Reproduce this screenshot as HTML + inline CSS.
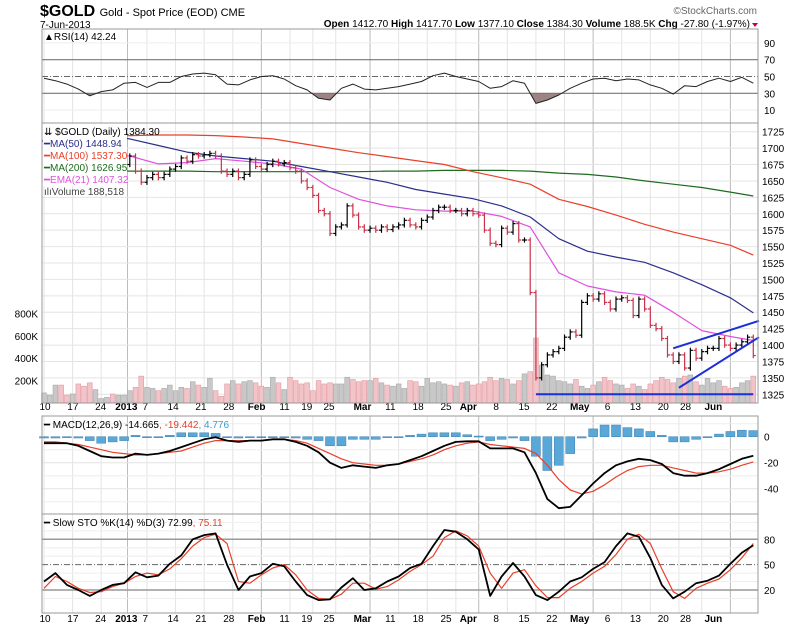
<!DOCTYPE html>
<html><head><meta charset="utf-8"><style>
html,body{margin:0;padding:0;background:#fff;}
svg{display:block;font-family:"Liberation Sans",sans-serif;}
</style></head><body>
<svg id="chart" width="800" height="628" viewBox="0 0 800 628" xmlns="http://www.w3.org/2000/svg">
<g>
<text x="40" y="16" font-size="16" font-weight="bold">$GOLD <tspan font-size="11" font-weight="normal">Gold - Spot Price (EOD) CME</tspan></text>
<text x="40" y="28" font-size="10">7-Jun-2013</text>
<text x="757" y="14" font-size="10" fill="#666" text-anchor="end">©StockCharts.com</text>
<text x="750" y="27" font-size="10" text-anchor="end"><tspan font-weight="bold">Open</tspan> 1412.70 <tspan font-weight="bold">High</tspan> 1417.70 <tspan font-weight="bold">Low</tspan> 1377.10 <tspan font-weight="bold">Close</tspan> 1384.30 <tspan font-weight="bold">Volume</tspan> 188.5K <tspan font-weight="bold">Chg</tspan> -27.80 (-1.97%)</text>
<path d="M752,23 L758,23 L755,27 Z" fill="#c03"/>
</g>
<g id="layer"></g>
</svg>
<script>
// ---- data ----
const closes=[1711,1712,1715,1697,1695,1695,1670,1667,1650,1657,1658,1660,1656,1657,1675,
1688,1665,1648,1655,1660,1655,1660,1668,1672,1685,1680,1690,1688,1690,1692,1688,1665,1660,1665,1655,1660,1682,1672,1668,1675,
1680,1676,1678,1670,1665,1650,1640,1628,1605,1600,1570,1580,1583,1612,1598,1580,1575,1578,1575,1580,
1576,1580,1583,1590,1583,1580,1590,1595,1605,1610,1610,1605,1605,1600,1605,1600,1598,1575,1555,1553,
1578,1572,1585,1560,1560,1480,1350,1370,1385,1390,1395,1412,1420,1415,1465,1475,1470,1478,1465,1455,
1470,1472,1468,1445,1470,1455,1430,1425,1410,1385,1375,1385,1365,1392,1380,1390,1395,1395,1410,1400,
1395,1400,1405,1412,1384];
const volumes=[90,70,160,160,70,80,170,150,180,120,40,50,80,70,70,
110,140,240,140,130,110,130,160,110,140,130,190,160,140,220,110,60,170,200,170,190,200,180,150,140,
230,180,120,230,200,170,180,110,200,170,180,170,170,230,210,190,200,200,220,180,
160,150,170,130,200,190,150,220,180,190,170,160,150,180,190,160,170,190,230,200,
220,210,170,200,260,280,580,340,250,240,200,190,170,210,150,130,160,190,230,200,
170,160,130,170,150,120,170,200,230,210,180,220,240,250,190,160,220,180,200,150,
130,140,180,200,240];
const maDays=[0,5,10,15,20,25,30,35,40,45,50,55,60,65,70,75,80,85,90,95,100,105,110,115,120,124];
const ma50=[1728,1724,1719,1714,1704,1694,1688,1684,1680,1672,1664,1656,1648,1637,1630,1623,1612,1595,1562,1543,1534,1526,1510,1492,1472,1449];
const ma100=[1716,1717,1718,1719,1720,1720,1719,1717,1714,1707,1700,1693,1687,1681,1675,1664,1655,1645,1622,1611,1598,1584,1572,1562,1552,1537];
const ma200=[1666,1666,1666,1665,1665,1665,1664,1664,1664,1664,1664,1664,1665,1665,1666,1666,1666,1665,1662,1660,1656,1650,1645,1640,1633,1627];
const ema21=[1700,1695,1690,1688,1676,1678,1684,1680,1676,1668,1640,1622,1612,1606,1604,1604,1596,1580,1510,1490,1481,1476,1450,1422,1413,1407];
const osDays=[0,2,4,6,8,10,12,14,16,18,20,22,24,26,28,30,32,34,36,38,40,42,44,46,48,50,52,54,56,58,60,62,64,66,68,70,72,74,76,78,80,82,84,86,88,90,92,94,96,98,100,102,104,106,108,110,112,114,116,118,120,122,124];
const rsi=[48,45,41,35,27,32,34,42,43,37,43,43,50,53,54,52,41,40,46,50,51,47,39,34,24,22,36,41,35,34,36,38,41,44,51,54,50,47,44,36,38,45,42,18,22,28,36,42,47,48,45,47,46,40,36,29,39,38,44,48,44,49,42];
const macd=[-5,-5,-5,-7,-11,-15,-16,-16,-13,-14,-13,-11,-8,-5,-2,-0.5,-3,-4,-3,-3,-2,-2,-4,-7,-12,-20,-24,-22,-23,-24,-22,-21,-18,-15,-11,-7,-4,-3.5,-3.5,-9,-9,-9,-12,-28,-48,-55,-54,-45,-36,-28,-22,-19,-17,-18,-21,-28,-30,-30,-28,-25,-21,-17,-14.7];
const signal=[-4,-4,-5,-6,-8,-10,-12,-13,-14,-14,-13,-12,-11,-8,-5,-3,-3,-3,-3,-3,-2,-2,-3,-5,-9,-13,-17,-20,-21,-22,-22,-21,-19,-17,-14,-10,-7,-5,-4,-6,-7,-8,-9,-13,-22,-33,-41,-44,-42,-37,-31,-26,-23,-22,-22,-24,-26,-28,-28,-27,-25,-22,-19.4];
const stoK=[30,40,26,20,13,20,26,28,41,35,37,51,61,80,85,87,50,20,36,40,51,48,30,14,8,9,23,34,20,22,30,36,46,51,72,91,89,80,68,13,36,52,36,14,8,18,30,35,45,53,72,87,83,58,26,10,18,28,31,37,51,64,73];
const stoD=[22,36,30,22,17,18,24,28,36,40,38,45,57,72,82,86,75,30,28,38,46,50,38,20,10,9,15,28,28,21,24,32,42,50,60,82,90,84,72,40,22,40,44,25,11,11,22,30,40,48,62,80,86,75,45,18,10,22,28,33,44,58,75];
const trendDays=[[86,124],[110,125],[111,125]];
const trendVals=[[1325,1325],[1395,1437],[1335,1412]];
const priceTicks=[1725,1700,1675,1650,1625,1600,1575,1550,1525,1500,1475,1450,1425,1400,1375,1350,1325];
const volTicks=[200,400,600,800];
const volTickLabels=['200K','400K','600K','800K'];
const rsiTicks=[90,70,50,30,10];
const macdTicks=[0,-20,-40];
const stoTicks=[80,50,20];
const dateLabels=['10','17','24','2013','7','14','21','28','Feb','11','19','25','Mar','11','18','25','Apr','8','15','22','May','6','13','20','28','Jun'];
const dateIdx=[0,5,10,14.6,18,23,28,33,38,43,47,51,57,62,67,72,76,81,86,91,96,101,106,111,115,120];
const monthIdx=[14.6,38,57,76,96,120];
const weekIdx=[0,5,10,18,23,28,33,43,47,51,62,67,72,81,86,91,101,106,111,115];

// ---- scales ----
const L=42,R=758;
const X=i=>44+5.72*i;
const LX=i=>45+5.57*i;
const PY=v=>131.7+(1725-v)*0.6565;
const VY=v=>403-v*0.112;
const RY=v=>93.3-(v-30)*0.84;
const MY=v=>436.7-v*1.3;
const SY=v=>539.3-(v-80)*0.845;
const NS='http://www.w3.org/2000/svg';
const layer=document.getElementById('layer');
function mk(tag,attrs,parent){const e=document.createElementNS(NS,tag);for(const k in attrs)e.setAttribute(k,attrs[k]);(parent||layer).appendChild(e);return e;}
function grp(){const g=document.createElementNS(NS,'g');layer.appendChild(g);return g;}

const panels=[[29,123],[123,403],[416,514],[514,613]];
const gGrid=grp();


panels.forEach(p=>{
  weekIdx.forEach(i=>{const x=X(i);mk('line',{x1:x,x2:x,y1:p[0],y2:p[1],stroke:'#e4e4e4','stroke-width':1},gGrid);});
  monthIdx.forEach(i=>{const x=X(i);mk('line',{x1:x,x2:x,y1:p[0],y2:p[1],stroke:'#bbb','stroke-width':1},gGrid);});
});
priceTicks.forEach(v=>mk('line',{x1:L,x2:R,y1:PY(v),y2:PY(v),stroke:'#e4e4e4'},gGrid));
[90,10].forEach(v=>mk('line',{x1:L,x2:R,y1:RY(v),y2:RY(v),stroke:'#eee'},gGrid));
[-10,-30,-50,10].forEach(v=>mk('line',{x1:L,x2:R,y1:MY(v),y2:MY(v),stroke:'#eee'},gGrid));
[-20,-40].forEach(v=>mk('line',{x1:L,x2:R,y1:MY(v),y2:MY(v),stroke:'#e4e4e4'},gGrid));
[10,30,40,60,70,90,100].forEach(v=>mk('line',{x1:L,x2:R,y1:SY(v),y2:SY(v),stroke:'#eee'},gGrid));

const gAx=grp();


function lab(x,y,t,anchor,size,bold,col){const e=mk('text',{x:x,y:y,'font-size':size||10,'text-anchor':anchor||'start',fill:col||'#000'},gAx);if(bold)e.setAttribute('font-weight','bold');e.textContent=t;return e;}
priceTicks.forEach(v=>lab(762,PY(v)+4,String(v)));
volTicks.forEach((v,k)=>lab(38,VY(v)+4,volTickLabels[k],'end'));
rsiTicks.forEach(v=>lab(764,RY(v)+4,String(v)));
macdTicks.forEach(v=>lab(764,MY(v)+4,String(v)));
stoTicks.forEach(v=>lab(764,SY(v)+4,String(v)));
[410,622].forEach(y=>dateLabels.forEach((t,k)=>{const b=/^[A-Z]|2013/.test(t);lab(LX(dateIdx[k]),y,t,'middle',10,b);}));

const gVol=grp();


volumes.forEach((v,i)=>{const down=i>0&&closes[i]<closes[i-1];
  const r=mk('rect',{x:X(i)-2.4,y:VY(v),width:4.8,height:403-VY(v),fill:down?'#f2c4c8':'#c8c8c8',stroke:down?'#e09aa2':'#a8a8a8','stroke-width':0.6},gVol);
  
  
});

function line(days,vals,yf,color,w,name){const d=days.map((i,k)=>(k?'L':'M')+X(i).toFixed(1)+','+yf(vals[k]).toFixed(1)).join(' ');const p=mk('path',{d:d,fill:'none',stroke:color,'stroke-width':w||1.2,'stroke-linejoin':'round'});return p;}
line(maDays,ma200,PY,'#1e6b1e',1.2,'ma200-line');
line(maDays,ma100,PY,'#e8402a',1.2,'ma100-line');
line(maDays,ma50,PY,'#2a2f8a',1.2,'ma50-line');
line(maDays,ema21,PY,'#e050e0',1.2,'ema21-line');

const gBars=grp();


closes.forEach((c,i)=>{const o=i?closes[i-1]:c;const down=i>0&&c<o;const col=down?'#c8324a':'#000';
  const hi=Math.max(o,c)+4,lo=Math.min(o,c)-4;const x=X(i);
  const g=document.createElementNS(NS,'g');gBars.appendChild(g);
  
  
  mk('line',{x1:x,x2:x,y1:PY(hi),y2:PY(lo),stroke:col,'stroke-width':1.2},g);
  mk('line',{x1:x-2.5,x2:x,y1:PY(o),y2:PY(o),stroke:col,'stroke-width':1.2},g);
  mk('line',{x1:x,x2:x+2.5,y1:PY(c),y2:PY(c),stroke:col,'stroke-width':1.2},g);
});

trendDays.forEach((d,k)=>{const l=mk('line',{x1:X(d[0]),x2:X(d[1]),y1:PY(trendVals[k][0]),y2:PY(trendVals[k][1]),stroke:'#1a2fd6','stroke-width':2});
  
  
});

const rsiPts=osDays.map((i,k)=>[X(i),RY(rsi[k])]);
const clipId='rsiclip';
const cp=mk('clipPath',{id:clipId});mk('rect',{x:L,y:RY(30),width:R-L,height:40},cp);
const rsiFill=mk('path',{d:'M'+rsiPts[0][0]+','+RY(30)+' '+rsiPts.map(p=>'L'+p[0].toFixed(1)+','+p[1].toFixed(1)).join(' ')+' L'+rsiPts[rsiPts.length-1][0]+','+RY(30)+' Z',fill:'#9c8484','clip-path':'url(#'+clipId+')'});


[70,30].forEach(v=>mk('line',{x1:L,x2:R,y1:RY(v),y2:RY(v),stroke:'#777','stroke-width':1.2}));
mk('line',{x1:L,x2:R,y1:RY(50),y2:RY(50),stroke:'#666','stroke-dasharray':'6,2,1,2'});
line(osDays,rsi,RY,'#222',1,'rsi-line');

const gH=grp();


osDays.forEach((i,k)=>{const h=macd[k]-signal[k];const y0=MY(0),y1=MY(h);
  const r=mk('rect',{x:X(i)-4.5,y:Math.min(y0,y1),width:9,height:Math.max(1,Math.abs(y1-y0)),fill:'#5aa8d8',stroke:'#3a7fb0','stroke-width':0.5},gH);
  
  
});
line(osDays,signal,MY,'#e8402a',1.2,'macd-signal-line');
line(osDays,macd,MY,'#000',1.8,'macd-line');

[80,20].forEach(v=>mk('line',{x1:L,x2:R,y1:SY(v),y2:SY(v),stroke:'#999','stroke-width':1.5}));
mk('line',{x1:L,x2:R,y1:SY(50),y2:SY(50),stroke:'#666','stroke-dasharray':'6,2,1,2'});
line(osDays,stoD,SY,'#e8402a',1.2,'sto-d-line');
line(osDays,stoK,SY,'#000',1.8,'sto-k-line');

panels.forEach(p=>mk('rect',{x:L,y:p[0],width:R-L,height:p[1]-p[0],fill:'none',stroke:'#999'}));

const leg=grp();


mk('rect',{x:43,y:124,width:84,height:62,fill:'#fff'},leg);
function lt(x,y,parts){const t=mk('text',{x:x,y:y,'font-size':10},leg);parts.forEach(p=>{const s=document.createElementNS(NS,'tspan');s.setAttribute('fill',p[1]);s.textContent=p[0];t.appendChild(s);});return t;}
lt(44,40,[['▲RSI(14) 42.24','#000']]);
lt(44,135,[['⇊ $GOLD (Daily) 1384.30','#000']]);
lt(44,147,[['━MA(50) 1448.94','#2a2f8a']]);
lt(44,159,[['━MA(100) 1537.30','#e8402a']]);
lt(44,171,[['━MA(200) 1626.95','#1e6b1e']]);
lt(44,183,[['━EMA(21) 1407.32','#e050e0']]);
lt(44,195,[['ılıVolume 188,518','#444']]);
lt(44,428,[['━ MACD(12,26,9) -14.665','#000'],[', -19.442','#e8402a'],[', 4.776','#3a9ad0']]);
lt(44,526,[['━ Slow STO %K(14) %D(3) 72.99','#000'],[', 75.11','#e8402a']]);
</script>
</body></html>
